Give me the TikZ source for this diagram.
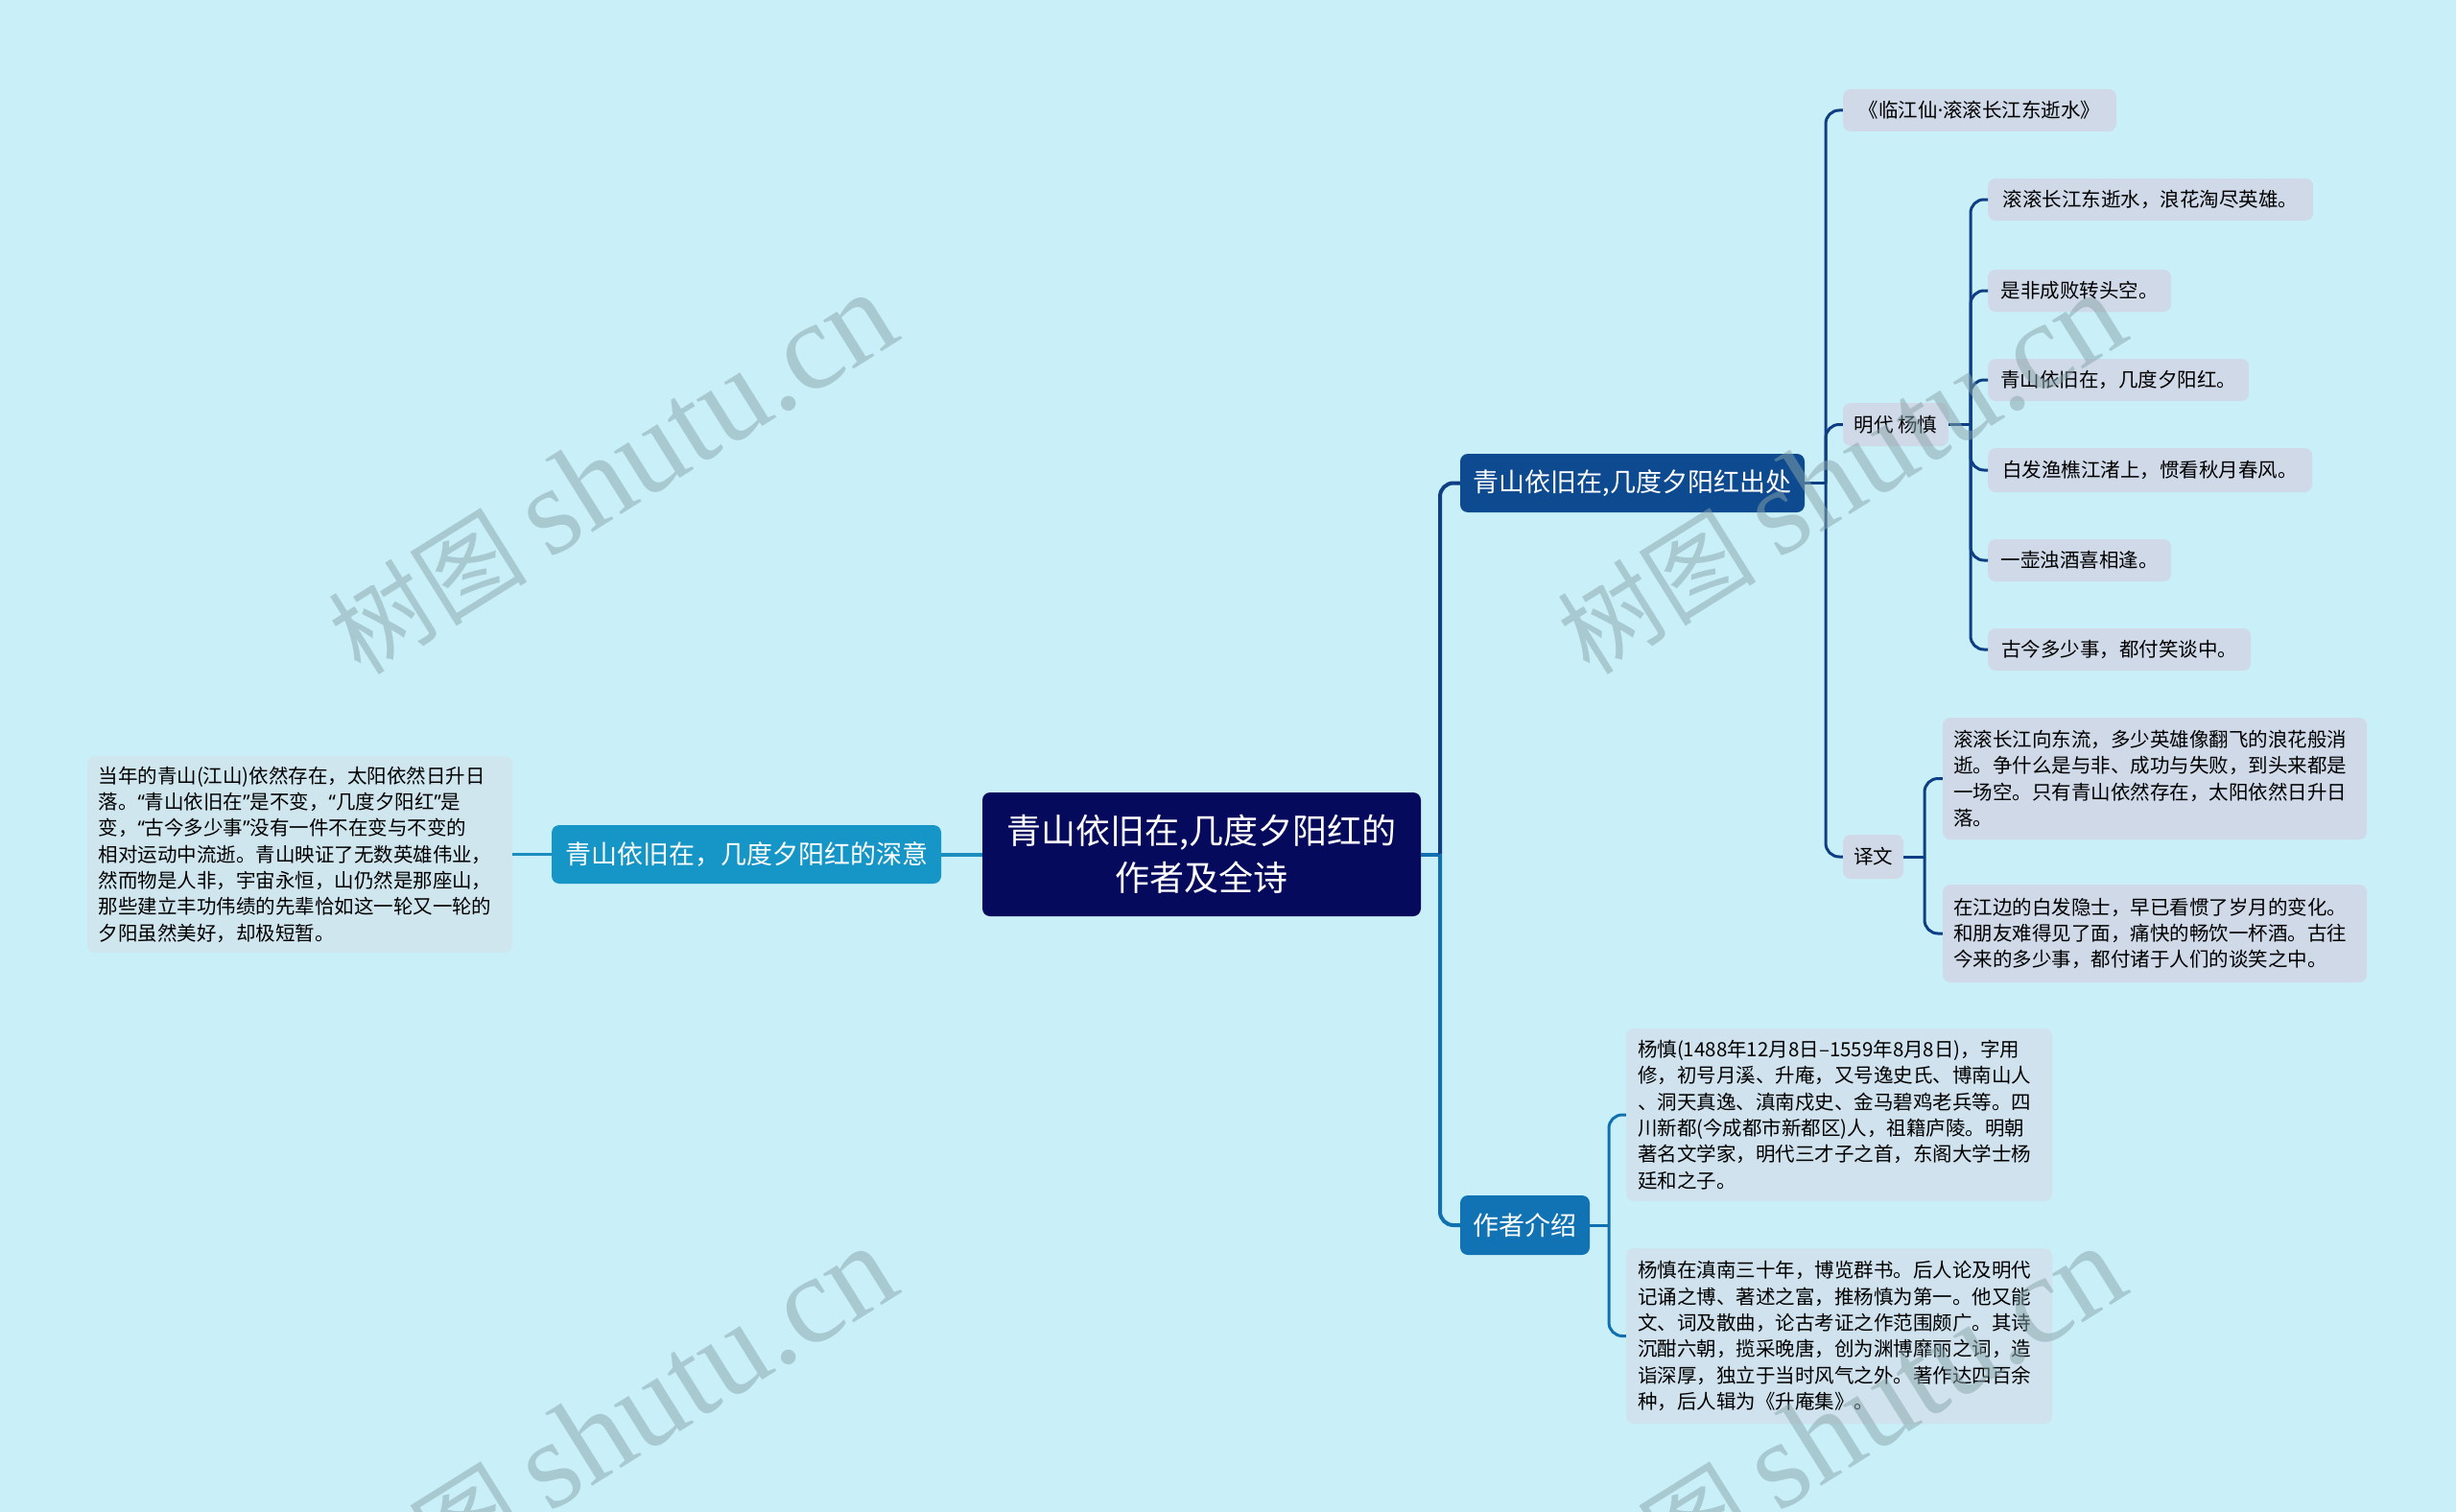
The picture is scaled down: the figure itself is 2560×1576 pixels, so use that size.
\documentclass[tikz,border=0pt]{standalone}
\usepackage{fontspec}
\newfontfamily\cjk{Noto Sans CJK SC}
\newfontfamily\latq{Noto Sans}
\newfontfamily\wmlat{Liberation Serif}
\newcommand\myoq{{\latq “}}
\newcommand\mycq{{\latq ”}}
\newcommand\mydot{{\latq ·}}
\definecolor{bgc}{HTML}{C9EFF8}
\definecolor{rootc}{HTML}{050A5C}
\definecolor{darkc}{HTML}{0E4A8F}
\definecolor{tealc}{HTML}{1596C6}
\definecolor{midc}{HTML}{1273B4}
\definecolor{leafa}{HTML}{CFD9E8}
\definecolor{leafb}{HTML}{CFE2EE}
\definecolor{leafc}{HTML}{D0E6EF}
\definecolor{linea}{HTML}{0E3F85}
\definecolor{lineb}{HTML}{1170B0}
\definecolor{linec}{HTML}{1C8DBF}
\definecolor{wmc}{HTML}{89A5AA}
\tikzset{
  box/.style={rounded corners=8pt, inner sep=0pt, align=center},
  rootbox/.style={box, fill=rootc, text=white, font=\cjk\fontsize{36}{49}\selectfont, minimum width=457pt, minimum height=129pt},
  lvone/.style={box, text=white, font=\cjk\fontsize{27}{32}\selectfont, minimum height=61pt},
  leaf/.style={box, fill=leafa, text=black, font=\cjk\fontsize{20.5}{27.3}\selectfont, minimum height=45pt},
  para/.style={box, text=black, font=\cjk\fontsize{20.5}{27.3}\selectfont, align=left, text width=420pt},
  lk/.style={line width=4pt},
  lks/.style={line width=3pt},
  rc/.style={rounded corners=14pt},
  wm/.style={text=wmc, opacity=0.5, rotate=32, anchor=base west, inner sep=0pt}
}
\begin{document}
\begin{tikzpicture}[x=1pt,y=-1pt]
\fill[bgc] (0,0) rectangle (2560,1576);
\useasboundingbox (0,0) rectangle (2560,1576);

% nodes
\node[rootbox] (root) at (1252.5,890.5) {青山依旧在,几度夕阳红的\\作者及全诗};
\node[lvone, fill=tealc, minimum width=406pt] (shenyi) at (778,890.5) {青山依旧在，几度夕阳红的深意};
\node[para, fill=leafc, minimum width=443pt, minimum height=205pt] (lefttext) at (312.5,890.5) {当年的青山(江山)依然存在，太阳依然日升日\\落。\myoq 青山依旧在\mycq 是不变，\myoq 几度夕阳红\mycq 是\\变，\myoq 古今多少事\mycq 没有一件不在变与不变的\\相对运动中流逝。青山映证了无数英雄伟业，\\然而物是人非，宇宙永恒，山仍然是那座山，\\那些建立丰功伟绩的先辈恰如这一轮又一轮的\\夕阳虽然美好，却极短暂。};
\node[lvone, fill=darkc, minimum width=359pt] (chuchu) at (1701.5,503.5) {青山依旧在,几度夕阳红出处};
\node[lvone, fill=midc, minimum width=135pt, minimum height=62pt] (zuozhe) at (1589.5,1277) {作者介绍};

\node[leaf, minimum width=285pt, minimum height=44pt] (linjiang) at (2063.5,115) {《临江仙\mydot 滚滚长江东逝水》};
\node[leaf, minimum width=110pt] (yangshen) at (1976,442.5) {明代 杨慎};
\node[leaf, minimum width=63pt, minimum height=46pt] (yiwen) at (1952.5,893) {译文};

\node[leaf, anchor=west, minimum width=339pt, minimum height=44pt] (p1) at (2072,208) {滚滚长江东逝水，浪花淘尽英雄。};
\node[leaf, anchor=west, minimum width=191pt, minimum height=44pt] (p2) at (2072,303) {是非成败转头空。};
\node[leaf, anchor=west, minimum width=272pt, minimum height=44pt] (p3) at (2072,396) {青山依旧在，几度夕阳红。};
\node[leaf, anchor=west, minimum width=338pt, minimum height=46pt] (p4) at (2072,490) {白发渔樵江渚上，惯看秋月春风。};
\node[leaf, anchor=west, minimum width=191pt, minimum height=44pt] (p5) at (2072,584) {一壶浊酒喜相逢。};
\node[leaf, anchor=west, minimum width=274pt, minimum height=44pt] (p6) at (2072,677) {古今多少事，都付笑谈中。};

\node[para, fill=leafa, minimum width=442pt, minimum height=127pt] (t1) at (2246,811.5) {滚滚长江向东流，多少英雄像翻飞的浪花般消\\逝。争什么是与非、成功与失败，到头来都是\\一场空。只有青山依然存在，太阳依然日升日\\落。};
\node[para, fill=leafa, minimum width=442pt, minimum height=102pt] (t2) at (2246,973) {在江边的白发隐士，早已看惯了岁月的变化。\\和朋友难得见了面，痛快的畅饮一杯酒。古往\\今来的多少事，都付诸于人们的谈笑之中。};

\node[para, fill=leafb, minimum width=444pt, minimum height=180pt] (a1) at (1917,1162) {杨慎(1488年12月8日–1559年8月8日)，字用\\修，初号月溪、升庵，又号逸史氏、博南山人\\、洞天真逸、滇南戍史、金马碧鸡老兵等。四\\川新都(今成都市新都区)人，祖籍庐陵。明朝\\著名文学家，明代三才子之首，东阁大学士杨\\廷和之子。};
\node[para, fill=leafb, minimum width=444pt, minimum height=183pt] (a2) at (1917,1392.5) {杨慎在滇南三十年，博览群书。后人论及明代\\记诵之博、著述之富，推杨慎为第一。他又能\\文、词及散曲，论古考证之作范围颇广。其诗\\沉酣六朝，揽采晚唐，创为渊博靡丽之词，造\\诣深厚，独立于当时风气之外。著作达四百余\\种，后人辑为《升庵集》。};

% junctions
\coordinate (j0) at (1501,890.5);
\coordinate (j1) at (1903,503.5);
\coordinate (j2) at (2054,442.5);
\coordinate (j3) at (2006,893);
\coordinate (j4) at (1677,1277);

% connectors
\draw[lk, linec] (root.west) -- (shenyi.east);
\draw[lks, linec] (shenyi.west) -- (lefttext.east);
\draw[lk, lineb] (root.east) -- (j0);
\draw[lk, linea, rc] (j0) |- (chuchu.west);
\draw[lk, lineb, rc] (j0) |- (zuozhe.west);

\draw[lks, linea] (chuchu.east) -- (j1);
\foreach \n in {linjiang,yangshen,yiwen} \draw[lks, linea, rc] (j1) |- (\n.west);
\draw[lks, linea] (yangshen.east) -- (j2);
\foreach \n in {p1,p2,p3,p4,p5,p6} \draw[lks, linea, rc] (j2) |- (\n.west);
\draw[lks, linea] (yiwen.east) -- (j3);
\foreach \n in {t1,t2} \draw[lks, linea, rc] (j3) |- (\n.west);
\draw[lks, lineb] (zuozhe.east) -- (j4);
\foreach \n in {a1,a2} \draw[lks, lineb, rc] (j4) |- (\n.west);

% watermarks
\node[wm] (w1) at (376,706) {\cjk\fontsize{104}{104}\selectfont 树图 {\wmlat\fontsize{130}{130}\selectfont shutu.cn}};
\node[wm] (w2) at (1657,706) {\cjk\fontsize{104}{104}\selectfont 树图 {\wmlat\fontsize{130}{130}\selectfont shutu.cn}};
\node[wm] (w3) at (376,1700) {\cjk\fontsize{104}{104}\selectfont 树图 {\wmlat\fontsize{130}{130}\selectfont shutu.cn}};
\node[wm] (w4) at (1657,1700) {\cjk\fontsize{104}{104}\selectfont 树图 {\wmlat\fontsize{130}{130}\selectfont shutu.cn}};
\end{tikzpicture}
\end{document}
